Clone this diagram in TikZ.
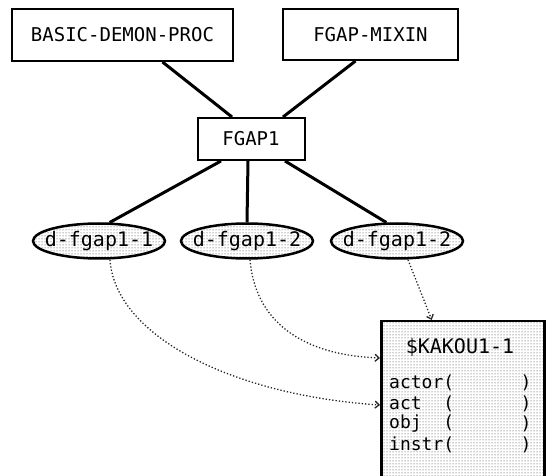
\documentclass[tikz,border=0pt]{standalone}
\usepackage{fontspec}
\setmonofont{DejaVu Sans Mono}
\usetikzlibrary{positioning}
\usetikzlibrary{shapes.geometric}
\usetikzlibrary{patterns}
\usetikzlibrary{arrows.meta}

\tikzset{
  classbox/.style={draw, line width=2pt, inner sep=0pt,
    font=\ttfamily\fontsize{19}{22}\selectfont},
  demon/.style={ellipse, draw, line width=2.5pt, inner sep=0pt,
    pattern=dots, pattern color=black!80,
    minimum width=132pt, minimum height=35pt},
  demontext/.style={inner sep=0pt, font=\ttfamily\fontsize{20}{24}\selectfont},
  framebox/.style={draw, line width=2.5pt, inner sep=0pt,
    pattern=dots, pattern color=black!80},
  slottext/.style={inner sep=0pt, font=\ttfamily\fontsize{18}{20}\selectfont},
  link/.style={line width=3pt},
  slotlink/.style={dotted, line width=1.3pt, black!85,
    -{Straight Barb[length=4pt,width=7pt]}},
}

\begin{document}
\begin{tikzpicture}[x=1pt, y=-1pt]
\useasboundingbox (0,0) rectangle (550,476);
\clip (0,0) rectangle (550,476);

% classes
\node[classbox, minimum width=221pt, minimum height=52pt] (basic) at (122.5,35) {BASIC-DEMON-PROC};
\node[classbox, minimum width=175pt, minimum height=51pt] (mixin) at (370.5,34.5) {FGAP-MIXIN};
\node[classbox, minimum width=107pt, minimum height=42pt] (fgap) at (251,139) {FGAP1};

\draw[link] ([xshift=40pt]basic.south) -- ([xshift=-19pt]fgap.north);
\draw[link] ([xshift=-15pt]mixin.south) -- ([xshift=32pt]fgap.north);

% demons
\node[demon, label={[demontext]center:d-fgap1-1}] (d1) at (99,241) {};
\node[demon, label={[demontext]center:d-fgap1-2}] (d2) at (247,241) {};
\node[demon, label={[demontext]center:d-fgap1-2}] (d3) at (397,241) {};

\draw[link] ([xshift=-30pt]fgap.south) -- (d1.60);
\draw[link] ([xshift=-3pt]fgap.south) -- (d2.north);
\draw[link] ([xshift=34pt]fgap.south) -- (d3.120);

% frame and its slots
\node[framebox, anchor=north west, minimum width=163pt, minimum height=170pt] (kakou) at (380,320) {};
\node[slottext, font=\ttfamily\fontsize{20}{22}\selectfont] (title) at (460,347) {\$KAKOU1-1};

\foreach \slot/\yy/\nm in {actor(/383/actor, act\phantom{or}(/404/act,
                            obj\phantom{or}(/424/obj, instr(/445/instr}{
  \node[slottext, anchor=west] (s-\nm) at (389,\yy) {\slot};
  \node[slottext] (r-\nm) at (526,\yy) {)};
}

% demon -> slot links
\draw[slotlink] ([xshift=11pt]d1.south) .. controls (115,335) and (230,395) .. ([yshift=-85pt]kakou.north west);
\draw[slotlink] ([xshift=3pt]d2.south) .. controls (255,320) and (300,355) .. ([yshift=-38pt]kakou.north west);
\draw[slotlink] ([xshift=11pt]d3.south) -- ([xshift=-31pt]kakou.north);

\end{tikzpicture}
\end{document}
